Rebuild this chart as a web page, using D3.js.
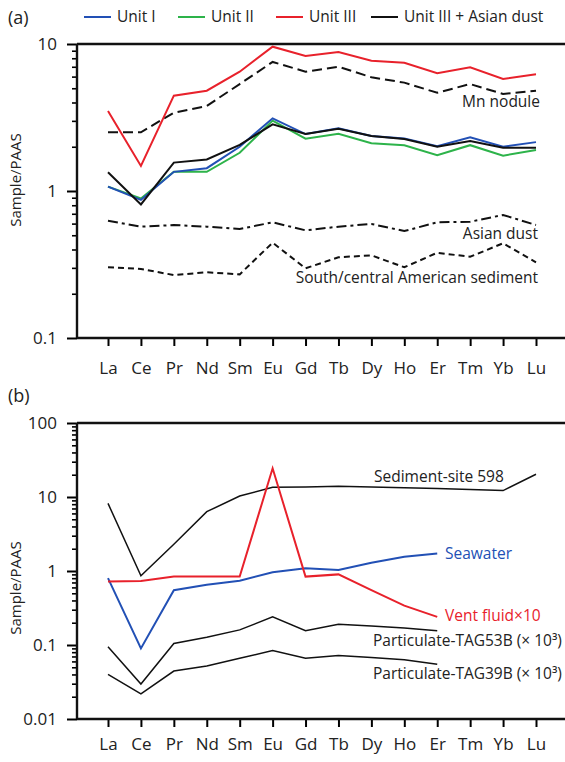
<!DOCTYPE html>
<html>
<head>
<meta charset="utf-8">
<script src="https://cdn.jsdelivr.net/npm/d3@7"></script>
<style>
  body { margin: 0; background: #fff; }
  svg { font-family: "Open Sans", sans-serif; }
</style>
</head>
<body>
<div id="container"></div>
<script>
var w = 565,
    h = 762;

// REE order on the x axis
var elements = ['La', 'Ce', 'Pr', 'Nd', 'Sm', 'Eu', 'Gd', 'Tb', 'Dy', 'Ho', 'Er', 'Tm', 'Yb', 'Lu'];

// panel (a)
var unitI       = [1.07, 0.87, 1.35, 1.43, 2.0, 3.12, 2.44, 2.67, 2.37, 2.28, 2.02, 2.32, 2.0, 2.15];
var unitII      = [1.07, 0.89, 1.35, 1.35, 1.82, 3.01, 2.27, 2.45, 2.11, 2.05, 1.75, 2.05, 1.74, 1.9];
var unitIII     = [3.5, 1.48, 4.45, 4.81, 6.48, 9.59, 8.28, 8.82, 7.7, 7.46, 6.32, 6.94, 5.78, 6.22];
var unitIIIDust = [1.34, 0.81, 1.56, 1.64, 2.06, 2.84, 2.44, 2.65, 2.37, 2.26, 2.0, 2.19, 1.97, 1.97];
var mnNodule    = [2.51, 2.51, 3.41, 3.79, 5.34, 7.55, 6.48, 7.01, 5.94, 5.46, 4.66, 5.34, 4.57, 4.81];
var asianDust   = [0.628, 0.572, 0.587, 0.572, 0.551, 0.612, 0.54, 0.572, 0.597, 0.534, 0.612, 0.618, 0.687, 0.587];
var southAmSed  = [0.303, 0.295, 0.268, 0.28, 0.271, 0.445, 0.298, 0.354, 0.365, 0.303, 0.38, 0.357, 0.441, 0.327];

// panel (b)
var sediment598 = [8.2, 0.86, 2.3, 6.33, 10.3, 13.5, 13.7, 14.0, 13.7, 13.3, 13.0, 12.6, 12.2, 20.3];
var ventFluid   = [0.72, 0.73, 0.84, 0.84, 0.84, 24.4, 0.84, 0.9, 0.55, 0.34, 0.24];
var seawater    = [0.8, 0.09, 0.55, 0.65, 0.74, 0.96, 1.09, 1.03, 1.29, 1.56, 1.73];
var tag53b      = [0.095, 0.0297, 0.105, 0.127, 0.16, 0.24, 0.156, 0.19, 0.18, 0.17, 0.156];
var tag39b      = [0.04, 0.0218, 0.0445, 0.052, 0.066, 0.084, 0.066, 0.072, 0.068, 0.063, 0.055];

var legendItems = [
    { name: 'Unit I', color: '#2250b5' },
    { name: 'Unit II', color: '#2db34a' },
    { name: 'Unit III', color: '#e8212b' },
    { name: 'Unit III + Asian dust', color: '#111' }
];

var svg = d3.select('#container')
    .append('svg')
    .attr('width', w)
    .attr('height', h);

var x = d3.scalePoint()
    .domain(elements)
    .range([108, 536]);

var axisLeftX = 77,
    axisRightX = 565;

function minorTicks(lo, hi) {
    var out = [];
    for (var p = lo; p < hi; p++) {
        for (var m = 2; m <= 9; m++) out.push(m * Math.pow(10, p));
    }
    return out;
}

function drawPanel(cfg) {
    var y = d3.scaleLog().domain(cfg.domain).range([cfg.bottom, cfg.top]);
    var g = svg.append('g');

    // minor ticks
    g.append('g')
        .attr('transform', 'translate(' + axisLeftX + ',0)')
        .call(d3.axisLeft(y).tickValues(minorTicks(cfg.pLo, cfg.pHi)).tickSize(5).tickFormat(''))
        .call(function(s) { s.select('.domain').remove(); })
        .selectAll('line').attr('stroke-width', 1.6);

    // major ticks + labels
    var ya = g.append('g')
        .attr('transform', 'translate(' + axisLeftX + ',0)')
        .call(d3.axisLeft(y).tickValues(cfg.majors).tickSize(10).tickPadding(10)
            .tickFormat(function(d) { return d3.format('~g')(d); }));
    ya.select('.domain').remove();
    ya.selectAll('line').attr('stroke-width', 2);
    ya.selectAll('text').attr('font-size', 17).attr('fill', '#222').attr('font-family', '"Open Sans", sans-serif');

    // frame: left, top, bottom
    g.append('line').attr('x1', axisLeftX).attr('x2', axisLeftX)
        .attr('y1', cfg.top).attr('y2', cfg.bottom)
        .attr('stroke', '#111').attr('stroke-width', 2.4);
    g.append('line').attr('x1', axisLeftX).attr('x2', axisRightX)
        .attr('y1', cfg.top).attr('y2', cfg.top)
        .attr('stroke', '#111').attr('stroke-width', 2.4);

    var xa = g.append('g')
        .attr('transform', 'translate(0,' + cfg.bottom + ')')
        .call(d3.axisBottom(x).tickSize(8).tickPadding(cfg.xPad));
    xa.select('.domain').remove();
    xa.selectAll('line').attr('stroke-width', 2);
    xa.selectAll('text').attr('font-size', 17).attr('fill', '#222').attr('font-family', '"Open Sans", sans-serif');
    g.append('line').attr('x1', axisLeftX).attr('x2', axisRightX)
        .attr('y1', cfg.bottom).attr('y2', cfg.bottom)
        .attr('stroke', '#111').attr('stroke-width', 2.4);

    // y label
    g.append('text')
        .attr('transform', 'translate(21,' + cfg.labelY + ') rotate(-90)')
        .attr('text-anchor', 'middle')
        .attr('font-size', 15)
        .attr('fill', '#222')
        .text('Sample/PAAS');

    // panel tag
    g.append('text')
        .attr('x', 8).attr('y', cfg.tagY)
        .attr('font-size', 18)
        .attr('fill', '#222')
        .text(cfg.tag);

    var line = d3.line()
        .x(function(d, i) { return x(elements[i]); })
        .y(function(d) { return y(d); });

    cfg.series.forEach(function(s) {
        g.append('path')
            .datum(s.values)
            .attr('d', line)
            .attr('fill', 'none')
            .attr('stroke', s.color)
            .attr('stroke-width', s.width || 2)
            .attr('stroke-dasharray', s.dash || null)
            .attr('stroke-linejoin', 'miter');
    });

    cfg.labels.forEach(function(l) {
        g.append('text')
            .attr('x', l.x).attr('y', y(l.v))
            .attr('dy', '0.35em')
            .attr('text-anchor', l.anchor || 'start')
            .attr('font-size', 15.5)
            .attr('fill', l.color || '#222')
            .text(l.text);
    });
    return y;
}

// ---------------- panel (a)
drawPanel({
    tag: '(a)', tagY: 24,
    domain: [0.1, 10], top: 44, bottom: 338,
    pLo: -1, pHi: 1, majors: [0.1, 1, 10],
    xPad: 16, labelY: 180,
    series: [
        { values: mnNodule, color: '#111', dash: '10,5' },
        { values: asianDust, color: '#111', dash: '10,4,3,4' },
        { values: southAmSed, color: '#111', dash: '6,4' },
        { values: unitII, color: legendItems[1].color },
        { values: unitI, color: legendItems[0].color },
        { values: unitIIIDust, color: legendItems[3].color },
        { values: unitIII, color: legendItems[2].color }
    ],
    labels: [
        { text: 'Mn nodule', x: 540, v: 4.05, anchor: 'end' },
        { text: 'Asian dust', x: 538, v: 0.51, anchor: 'end' },
        { text: 'South/central American sediment', x: 538, v: 0.258, anchor: 'end' }
    ]
});

// legend
var legend = svg.append('g').attr('class', 'legend');
var legendX = [84, 178, 276, 371];
legendItems.forEach(function(d, i) {
    legend.append('line')
        .attr('x1', legendX[i]).attr('x2', legendX[i] + 27)
        .attr('y1', 17).attr('y2', 17)
        .attr('stroke', d.color).attr('stroke-width', 2);
    legend.append('text')
        .attr('x', legendX[i] + 33).attr('y', 17)
        .attr('dy', '0.35em')
        .attr('font-size', 15.5)
        .attr('fill', '#222')
        .text(d.name);
});

// ---------------- panel (b)
drawPanel({
    tag: '(b)', tagY: 402,
    domain: [0.01, 100], top: 423, bottom: 719,
    pLo: -2, pHi: 2, majors: [0.01, 0.1, 1, 10, 100],
    xPad: 11, labelY: 588,
    series: [
        { values: sediment598, color: '#111', width: 1.5 },
        { values: tag53b, color: '#111', width: 1.5 },
        { values: tag39b, color: '#111', width: 1.5 },
        { values: seawater, color: '#2250b5' },
        { values: ventFluid, color: '#e8212b' }
    ],
    labels: [
        { text: 'Sediment-site 598', x: 374, v: 19 },
        { text: 'Seawater', x: 445, v: 1.7, color: '#2250b5' },
        { text: 'Vent fluid\u00d710', x: 445, v: 0.246, color: '#e8212b' },
        { text: 'Particulate-TAG53B (\u00d7 10\u00b3)', x: 373, v: 0.114 },
        { text: 'Particulate-TAG39B (\u00d7 10\u00b3)', x: 373, v: 0.0405 }
    ]
});
</script>
</body>
</html>
